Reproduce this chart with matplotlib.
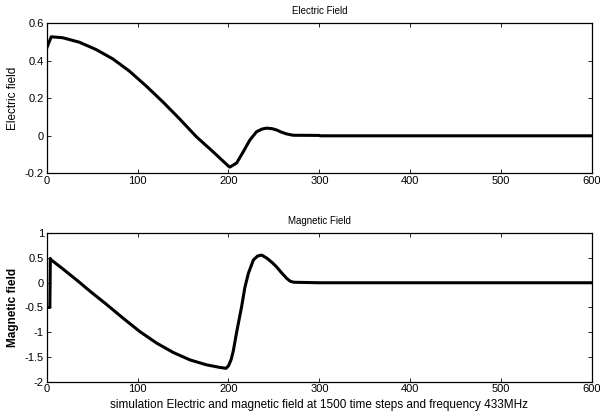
import matplotlib
matplotlib.use("Agg")
import matplotlib.pyplot as plt

plt.rcParams['font.family'] = ['Liberation Sans', 'DejaVu Sans']

# Electric field (time step, value)
e_x = [0, 5, 17.6, 36, 54.4, 72.8, 91, 109.6, 128, 146.3, 164.7, 183, 199.6, 201.5,
       209, 216.3, 223.6, 231, 237, 242, 248, 253, 258, 264, 271, 300, 301, 600]
e_y = [0.467, 0.528, 0.523, 0.499, 0.46, 0.41, 0.345, 0.265, 0.18, 0.09, -0.005,
       -0.085, -0.16, -0.167, -0.145, -0.085, -0.022, 0.022, 0.036, 0.041, 0.038,
       0.031, 0.02, 0.01, 0.003, 0.002, 0.0, 0.0]

# Magnetic field (time step, value)
m_x = [0, 3.5, 4.0, 4.8, 17.6, 36, 47.6, 66, 84.3, 102.7, 121, 139.3, 157.7, 176,
       190, 197.3, 200, 203, 205.3, 209, 214.5, 218, 221.9, 227.4, 232, 236.5, 242,
       248, 253, 258, 264, 268, 272, 300, 600]
m_y = [-0.5, -0.5, 0.49, 0.465, 0.283, 0.01, -0.17, -0.44, -0.72, -0.99, -1.22,
       -1.41, -1.56, -1.66, -1.71, -1.73, -1.68, -1.55, -1.38, -1.0, -0.48, -0.1,
       0.19, 0.46, 0.54, 0.56, 0.5, 0.41, 0.32, 0.21, 0.09, 0.03, 0.01, 0.0, 0.0]

x_ticks = [0, 100, 200, 300, 400, 500, 600]
e_ticks = [-0.2, 0, 0.2, 0.4, 0.6]
e_ticklabels = ['-0.2', '0', '0.2', '0.4', '0.6']
m_ticks = [-2, -1.5, -1, -0.5, 0, 0.5, 1]
m_ticklabels = ['-2', '-1.5', '-1', '-0.5', '0', '0.5', '1']

fig = plt.figure(figsize=(6.0, 4.16), dpi=100)
ax1 = fig.add_axes([0.0778, 0.5834, 0.9089, 0.3606])
ax2 = fig.add_axes([0.0778, 0.0825, 0.9089, 0.3567])

def style(ax):
    ax.set_xlim(0, 600)
    ax.set_xticks(x_ticks)
    ax.tick_params(direction='in', length=3, width=0.6, labelsize=8,
                   top=True, right=True, pad=2)
    for s in ax.spines.values():
        s.set_linewidth(0.9)

ax1.plot(e_x, e_y, color='black', lw=2.2, solid_joinstyle='round')
style(ax1)
ax1.set_ylim(-0.2, 0.6)
ax1.set_yticks(e_ticks)
ax1.set_yticklabels(e_ticklabels)
ax1.set_title('Electric Field', fontsize=7, pad=6.5)
ax1.set_ylabel('Electric field', fontsize=8.5, labelpad=4)

ax2.plot(m_x, m_y, color='black', lw=2.2, solid_joinstyle='round')
style(ax2)
ax2.set_ylim(-2, 1)
ax2.set_yticks(m_ticks)
ax2.set_yticklabels(m_ticklabels)
ax2.set_title('Magnetic Field', fontsize=7, pad=6.5)
ax2.set_ylabel('Magnetic field', fontsize=8.5, fontweight='bold', labelpad=4)
ax2.set_xlabel('simulation Electric and magnetic field at 1500 time steps and frequency 433MHz',
               fontsize=8.5, labelpad=3)

fig.savefig('out.png', dpi=100)
